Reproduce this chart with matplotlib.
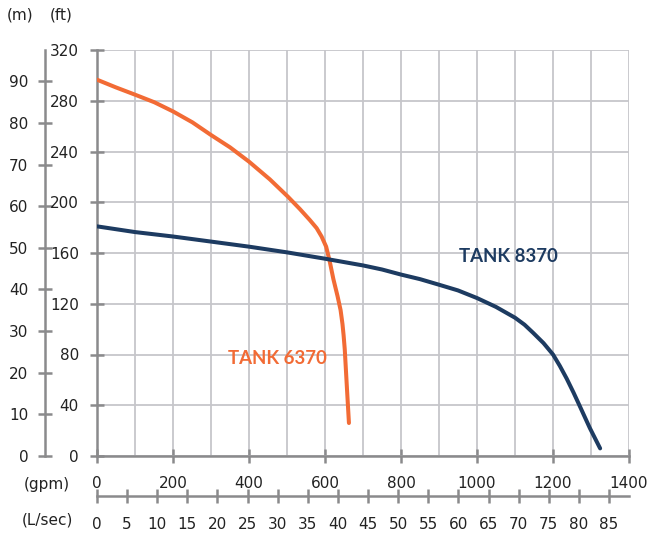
import matplotlib
matplotlib.use("Agg")
import matplotlib.pyplot as plt
import numpy as np

# ---- data ----
tank6370_gpm = [0, 50, 100, 151, 200, 251, 300, 350, 400, 455, 502, 534, 560, 578, 591,
                603, 612, 622, 633, 641, 646, 649, 652, 655, 658, 663]
tank6370_ft = [296.6, 290.5, 284.8, 278.8, 271.6, 263, 253, 243.3, 232, 218, 204.5, 194.6, 186,
               179.6, 173, 165, 154, 139.5, 126, 115, 104, 95, 84, 68, 52, 26]

tank8370_gpm = [0, 100, 200, 300, 400, 500, 600, 700, 750, 800, 850, 900, 950, 1000, 1050,
                1100, 1125, 1148, 1175, 1200, 1218, 1236, 1254, 1271, 1297, 1324]
tank8370_ft = [181, 176.5, 173, 169, 165, 160.5, 155.5, 150.2, 147, 143, 139.4, 135, 130.5, 124.5,
               117.5, 109, 103.5, 97, 89, 80, 71, 61, 50, 39, 22, 6]

gpm_ticks = [0, 200, 400, 600, 800, 1000, 1200, 1400]
ft_ticks = [0, 40, 80, 120, 160, 200, 240, 280, 320]
m_ticks = [0, 10, 20, 30, 40, 50, 60, 70, 80, 90]
lsec_ticks = list(range(0, 90, 5))

FT_PER_M = 3.28084
LS_PER_GPM = 0.0630902

ORANGE = "#f26b35"
NAVY = "#1d3b61"
SPINE = "#8a8a8c"
GRID = "#c6c6ca"
TXT = "#222222"

plt.rcParams['font.family'] = 'sans-serif'
plt.rcParams['font.sans-serif'] = ['DejaVu Sans']
FS = 11

W, H = 651, 534
fig = plt.figure(figsize=(W / 100, H / 100), dpi=100)
ax = fig.add_axes([97 / W, 78 / H, 532 / W, 406 / H])

ax.set_xlim(0, 1400)
ax.set_ylim(0, 320)

ax.set_xticks(gpm_ticks)
ax.set_xticks(np.arange(0, 1401, 100), minor=True)
ax.set_yticks(ft_ticks)
ax.set_yticklabels([str(v) for v in ft_ticks])
ax.set_xticklabels([str(v) for v in gpm_ticks])

ax.grid(True, which='both', axis='x', color=GRID, lw=1.3, zorder=0)
ax.grid(True, which='major', axis='y', color=GRID, lw=1.3, zorder=0)
ax.set_axisbelow(True)

for s in ['top', 'right']:
    ax.spines[s].set_visible(False)
for s in ['left', 'bottom']:
    ax.spines[s].set_color(SPINE)
    ax.spines[s].set_linewidth(1.8)

ax.tick_params(axis='both', which='major', direction='inout', length=10, width=1.8,
               color=SPINE, labelsize=FS, labelcolor=TXT)
ax.tick_params(axis='x', which='major', pad=9.5)
ax.tick_params(axis='y', which='major', pad=8)
ax.tick_params(axis='x', which='minor', length=0)

# curves
ax.plot(tank6370_gpm, tank6370_ft, color=ORANGE, lw=2.9, solid_capstyle='round',
        solid_joinstyle='round', zorder=3)
ax.plot(tank8370_gpm, tank8370_ft, color=NAVY, lw=2.9, solid_capstyle='round',
        solid_joinstyle='round', zorder=3)

ax.text(952, 157, "TANK 8370", color=NAVY, fontsize=13.4, fontweight='bold',
        family=['Lato', 'DejaVu Sans'], ha='left', va='center')
ax.text(345, 77, "TANK 6370", color=ORANGE, fontsize=13.4, fontweight='bold',
        family=['Lato', 'DejaVu Sans'], ha='left', va='center')

# metres axis
secy = ax.secondary_yaxis(-52 / 532, functions=(lambda f: f / FT_PER_M, lambda m: m * FT_PER_M))
secy.set_yticks(m_ticks)
secy.set_yticklabels([str(v) for v in m_ticks])
secy.spines['left'].set_color(SPINE)
secy.spines['left'].set_linewidth(1.8)
secy.tick_params(direction='inout', length=10, width=1.8, color=SPINE,
                 labelsize=FS, labelcolor=TXT, pad=7)

# L/sec axis
secx = ax.secondary_xaxis(-40 / 406, functions=(lambda g: g * LS_PER_GPM, lambda l: l / LS_PER_GPM))
secx.set_xticks(lsec_ticks)
secx.set_xticklabels([str(v) for v in lsec_ticks])
secx.spines['bottom'].set_color(SPINE)
secx.spines['bottom'].set_linewidth(1.8)
secx.tick_params(direction='inout', length=10, width=1.8, color=SPINE,
                 labelsize=FS, labelcolor=TXT, pad=10)

def ftext(x, y, s):
    fig.text(x / W, 1 - y / H, s, fontsize=FS, color=TXT, ha='center', va='center')

ftext(20, 15, "(m)")
ftext(61, 15, "(ft)")
ftext(47, 484, "(gpm)")
ftext(47, 520, "(L/sec)")

fig.savefig("out.png", dpi=100, facecolor='white')
